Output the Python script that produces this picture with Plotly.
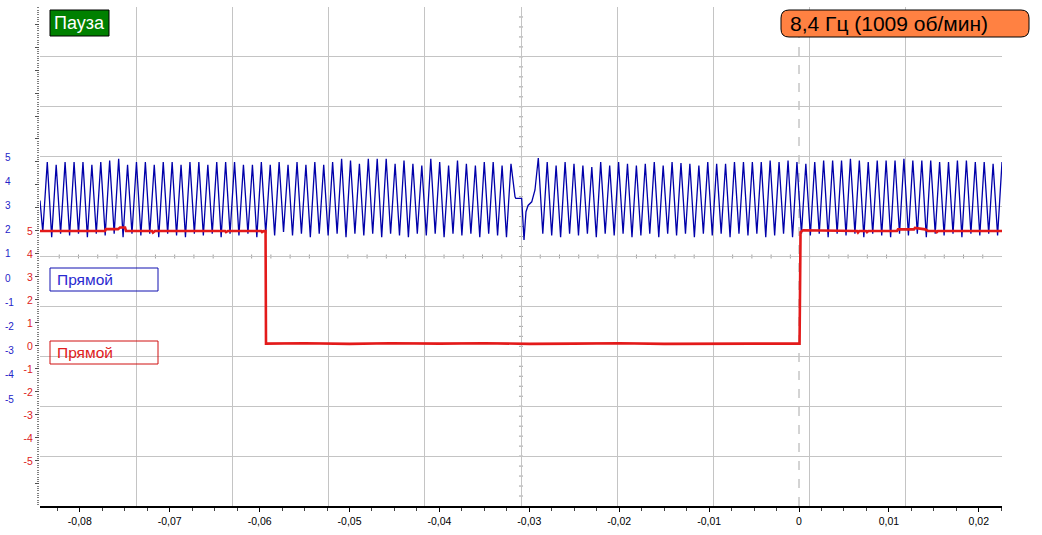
import plotly.graph_objects as go

# ---------------- data ----------------
time_range_ms = [-84.43, 22.58]
trigger_t_ms = 0.0

x_tick_vals_ms = [-80, -70, -60, -50, -40, -30, -20, -10, 0, 10, 20]
x_tick_text = ["-0,08", "-0,07", "-0,06", "-0,05", "-0,04", "-0,03",
               "-0,02", "-0,01", "0", "0,01", "0,02"]

level_tick_vals = [5, 4, 3, 2, 1, 0, -1, -2, -3, -4, -5]
level_tick_text = ["5", "4", "3", "2", "1", "0", "-1", "-2", "-3", "-4", "-5"]

blue_range = [-9.42, 11.20]
red_range = [-6.96, 14.74]

blue_peak_t_ms = [
    -83.62, -82.63, -81.64, -80.64, -79.65, -78.66, -77.67, -76.68, -75.68, -74.69,
    -73.70, -72.71, -71.72, -70.72, -69.73, -68.74, -67.75, -66.76, -65.76, -64.77,
    -63.78, -62.79, -61.80, -60.80, -59.81, -58.82, -57.83, -56.84, -55.84, -54.85,
    -53.86, -52.87, -51.88, -50.88, -49.89, -48.90, -47.91, -46.92, -45.92, -44.93,
    -43.94, -42.95, -41.96, -40.96, -39.97, -38.98, -37.99, -37.00, -36.00, -35.01,
    -34.02, -33.03, -32.04,
    -29.00, -28.01, -27.02, -26.02, -25.03, -24.04, -23.05, -22.06, -21.06, -20.07,
    -19.08, -18.09, -17.10, -16.10, -15.11, -14.12, -13.13, -12.14, -11.14, -10.15,
    -9.16, -8.17, -7.18, -6.18, -5.19, -4.20, -3.21, -2.22, -1.22, -0.23,
    0.76, 1.75, 2.74, 3.74, 4.73, 5.72, 6.71, 7.70, 8.70, 9.69,
    10.68, 11.67, 12.66, 13.66, 14.65, 15.64, 16.63, 17.62, 18.62, 19.61,
    20.60, 21.59, 22.58,
]
blue_peak_v = [
    4.79, 4.68, 4.79, 4.79, 4.79, 4.68, 4.79, 4.86, 4.93, 4.68,
    4.79, 4.79, 4.68, 4.79, 4.79, 4.68, 4.79, 4.79, 4.68, 4.79,
    4.79, 4.79, 4.68, 4.68, 4.79, 4.68, 4.79, 4.68, 4.79, 4.68,
    4.79, 4.68, 4.79, 4.93, 4.86, 4.72,
    4.93, 4.93, 4.93, 4.72, 4.86, 4.72, 4.65, 4.93, 4.79, 4.65,
    4.86, 4.72, 4.65, 4.79, 4.79, 4.65, 4.72,
    4.96, 4.79, 4.65, 4.79, 4.72, 4.65, 4.59, 4.79, 4.65, 4.79,
    4.72, 4.65, 4.72, 4.79, 4.65, 4.79, 4.75, 4.72,
    4.65, 4.79, 4.72, 4.72, 4.79, 4.79, 4.79, 4.79, 4.86, 4.79,
    4.86, 4.79, 4.72, 4.79, 4.86, 4.86, 4.86, 4.93, 4.86, 4.79,
    4.86, 4.86, 4.86, 4.93, 4.86, 4.86, 4.86, 4.79, 4.79, 4.86,
    4.86, 4.79, 4.79, 4.72, 4.79,
]
blue_trough_t_ms = [
    -84.12, -83.13, -82.14, -81.14, -80.15, -79.16, -78.17, -77.18, -76.18, -75.19,
    -74.20, -73.21, -72.22, -71.22, -70.23, -69.24, -68.25, -67.26, -66.26, -65.27,
    -64.28, -63.29, -62.30, -61.30, -60.31, -59.32, -58.33, -57.34, -56.34, -55.35,
    -54.36, -53.37, -52.38, -51.38, -50.39, -49.40, -48.41, -47.42, -46.42, -45.43,
    -44.44, -43.45, -42.46, -41.46, -40.47, -39.48, -38.49, -37.50, -36.50, -35.51,
    -34.52, -33.53, -32.54,
    -28.50, -27.51, -26.52, -25.52, -24.53, -23.54, -22.55, -21.56, -20.56, -19.57,
    -18.58, -17.59, -16.60, -15.60, -14.61, -13.62, -12.63, -11.64, -10.64, -9.65,
    -8.66, -7.67, -6.68, -5.68, -4.69, -3.70, -2.71, -1.72, -0.72, 0.27,
    1.26, 2.25, 3.24, 4.24, 5.23, 6.22, 7.21, 8.20, 9.20, 10.19,
    11.18, 12.17, 13.16, 14.16, 15.15, 16.14, 17.13, 18.12, 19.12, 20.11,
    21.10, 22.09,
]
blue_trough_v = [
    1.90, 1.69, 1.83, 1.76, 1.83, 1.69, 1.83, 1.76, 1.83, 1.69,
    1.83, 1.76, 1.83, 1.69, 1.83, 1.76, 1.69, 1.83, 1.76, 1.83,
    1.69, 1.83, 1.76, 1.83, 1.69, 1.83, 1.76, 1.90, 1.76, 1.83,
    1.69, 1.83, 1.76, 1.83, 1.69, 1.83, 1.76, 1.83, 1.69, 1.83,
    1.76, 1.69, 1.83, 1.76, 1.83, 1.69, 1.83, 1.76, 1.83, 1.69,
    1.83, 1.76, 1.69,
    1.83, 1.76, 1.69, 1.83, 1.76, 1.83, 1.69, 1.83, 1.76, 1.83,
    1.69, 1.76, 1.83, 1.69, 1.83, 1.76, 1.83, 1.69, 1.83, 1.76,
    1.83, 1.69, 1.83, 1.76, 1.83, 1.69, 1.76, 1.83, 1.69, 1.83,
    1.76, 1.83, 1.69, 1.83, 1.76, 1.83, 1.69, 1.83, 1.76, 1.69,
    1.83, 1.76, 1.83, 1.69, 1.83, 1.76, 1.83, 1.69, 1.83, 1.76,
    1.83, 1.76,
]
# start of record and the missing-tooth gap
blue_extra_t_ms = [-84.43, -31.70, -31.59, -31.50, -30.85, -30.59, -30.37, -30.14, -29.73, -29.37]
blue_extra_v = [3.20, 3.65, 3.36, 3.29, 3.29, 1.57, 2.74, 3.00, 3.15, 3.64]

red_t_ms = [
    -84.43, -77.20, -77.09, -75.75, -75.53, -74.97, -74.86, -71.97, -71.86, -71.64,
    -63.85, -63.74, -63.52, -59.84, -59.73, -59.51, -59.34, -59.29,
    -55.0, -50.0, -45.5, -40.0, -35.0, -30.0, -25.0, -20.0, -15.0, -10.0, -5.0, 0.06,
    0.08, 0.14, 0.17, 0.44, 1.50, 1.60, 6.45, 6.56, 6.70, 7.45, 7.56, 7.70,
    10.90, 11.01, 12.79, 12.90, 14.02, 14.35, 15.20, 15.32, 15.45, 22.58,
]
red_v = [
    5.00, 5.00, 5.08, 5.08, 5.15, 5.15, 5.00, 5.00, 4.93, 5.00,
    5.00, 4.95, 5.00, 5.00, 4.95, 5.00, 5.00, 0.10,
    0.12, 0.09, 0.12, 0.10, 0.12, 0.09, 0.10, 0.12, 0.09, 0.11, 0.10, 0.10,
    2.60, 2.70, 4.95, 5.03, 5.03, 5.00, 5.00, 4.93, 5.00, 5.00, 4.95, 5.00,
    5.00, 5.07, 5.07, 5.13, 5.07, 5.00, 5.00, 4.95, 5.00, 5.00,
]

channel_label = "Прямой"
pause_label = "Пауза"
freq_label = "8,4 Гц (1009 об/мин)"
n_div = 10

# ---------------- layout geometry ----------------
W, H = 1042, 535
PL, PR, PT, PB = 40, 1002, 7, 506
dom_x = [PL / W, PR / W]
dom_y = [1 - PB / H, 1 - PT / H]


def px(x):
    return x / W


def py(y):
    return 1 - y / H


BLUE = "#0000aa"
RED = "#e31a1a"
GRID = "#c4c4c4"
FONT = "Liberation Sans, Arial, sans-serif"

# merge blue vertices in time order
blue_pts = sorted(zip(blue_extra_t_ms + blue_trough_t_ms + blue_peak_t_ms,
                      blue_extra_v + blue_trough_v + blue_peak_v))
blue_t_s = [p[0] / 1000 for p in blue_pts]
blue_vals = [p[1] for p in blue_pts]

fig = go.Figure()
fig.add_trace(go.Scatter(x=blue_t_s, y=blue_vals, mode="lines",
                         line=dict(color=BLUE, width=1.3), xaxis="x", yaxis="y",
                         hoverinfo="skip"))
fig.add_trace(go.Scatter(x=[t / 1000 for t in red_t_ms], y=red_v, mode="lines",
                         line=dict(color=RED, width=2.6), xaxis="x", yaxis="y2",
                         hoverinfo="skip"))
# anchor trace for the division grid subplot
fig.add_trace(go.Scatter(x=[n_div / 2], y=[n_div / 2], mode="markers",
                         marker=dict(opacity=0), xaxis="x2", yaxis="y3",
                         hoverinfo="skip"))

red_tickvals = list(range(-6, 15))
red_ticktext = [str(v) if -5 <= v <= 5 else "" for v in red_tickvals]

fig.update_layout(
    width=W, height=H, template="none",
    margin=dict(l=0, r=0, t=0, b=0),
    paper_bgcolor="white", plot_bgcolor="white",
    showlegend=False, font=dict(family=FONT), hovermode=False,
    xaxis=dict(domain=dom_x, range=[t / 1000 for t in time_range_ms], anchor="y",
               showgrid=False, zeroline=False, showline=True, linecolor="black",
               linewidth=2, ticks="outside", ticklen=4, tickcolor="black",
               tickmode="array", tickvals=[v / 1000 for v in x_tick_vals_ms],
               ticktext=x_tick_text, tickfont=dict(size=10.5, color="black", family=FONT),
               minor=dict(dtick=0.0025, tick0=0, ticks="outside", ticklen=2.5,
                          tickcolor="#404040", showgrid=False),
               automargin=False),
    yaxis=dict(domain=dom_y, range=blue_range, anchor="free", position=0, side="right",
               showgrid=False, zeroline=False, showline=False, ticks="",
               tickmode="array", tickvals=level_tick_vals, ticktext=level_tick_text,
               tickfont=dict(size=10, color="#2424c8", family=FONT),
               ticklabelstandoff=4, automargin=False),
    yaxis2=dict(overlaying="y", anchor="x", side="left", range=red_range,
                showgrid=False, zeroline=False, showline=False,
                ticks="outside", ticklen=4, tickcolor="#505050",
                tickmode="array", tickvals=red_tickvals, ticktext=red_ticktext,
                tickfont=dict(size=10.5, color="#dd2020", family=FONT),
                minor=dict(dtick=0.1, tick0=0, ticks="outside", ticklen=2,
                           tickcolor="#808080", showgrid=False),
                automargin=False),
    xaxis2=dict(overlaying="x", anchor="y3", range=[0, n_div], tickmode="array",
                tickvals=list(range(1, n_div)), showgrid=True, gridcolor=GRID,
                gridwidth=1, showticklabels=False, ticks="", zeroline=False,
                showline=False, automargin=False),
    yaxis3=dict(overlaying="y", anchor="x2", range=[0, n_div], tickmode="array",
                tickvals=list(range(1, n_div)), showgrid=True, gridcolor=GRID,
                gridwidth=1, showticklabels=False, ticks="", zeroline=False,
                showline=False, automargin=False),
)

shapes = []
# trigger cursor (dashed)
shapes.append(dict(type="line", xref="x", yref="y3", x0=trigger_t_ms / 1000,
                   x1=trigger_t_ms / 1000, y0=0, y1=n_div, layer="below",
                   line=dict(color="#a8a8a8", width=1, dash="dash")))
# centre-line tick marks
c = n_div / 2
for k in range(1, n_div * 5):
    v = k / 5
    shapes.append(dict(type="line", xref="x2", yref="y3", x0=c - 0.021, x1=c + 0.021,
                       y0=v, y1=v, layer="below", line=dict(color="#a0a0a0", width=1)))
    shapes.append(dict(type="line", xref="x2", yref="y3", x0=v, x1=v,
                       y0=c - 0.04, y1=c + 0.04, layer="below",
                       line=dict(color="#a0a0a0", width=1)))

# pause box
shapes.append(dict(type="rect", xref="paper", yref="paper", x0=px(50), x1=px(109),
                   y0=py(36), y1=py(10), fillcolor="#008000",
                   line=dict(color="black", width=1), layer="above"))
# channel label boxes
shapes.append(dict(type="rect", xref="paper", yref="paper", x0=px(50), x1=px(158),
                   y0=py(291), y1=py(268), fillcolor="rgba(0,0,0,0)",
                   line=dict(color="#1010b0", width=1), layer="above"))
shapes.append(dict(type="rect", xref="paper", yref="paper", x0=px(50), x1=px(158),
                   y0=py(364), y1=py(341), fillcolor="rgba(0,0,0,0)",
                   line=dict(color="#d01010", width=1), layer="above"))
# rounded frequency box
x0, x1, y0, y1, r = 781, 1029, 10, 37, 8
path = (f"M {px(x0 + r)},{py(y0)} L {px(x1 - r)},{py(y0)} "
        f"Q {px(x1)},{py(y0)} {px(x1)},{py(y0 + r)} L {px(x1)},{py(y1 - r)} "
        f"Q {px(x1)},{py(y1)} {px(x1 - r)},{py(y1)} L {px(x0 + r)},{py(y1)} "
        f"Q {px(x0)},{py(y1)} {px(x0)},{py(y1 - r)} L {px(x0)},{py(y0 + r)} "
        f"Q {px(x0)},{py(y0)} {px(x0 + r)},{py(y0)} Z")
shapes.append(dict(type="path", xref="paper", yref="paper", path=path,
                   fillcolor="#ff8142", line=dict(color="black", width=1), layer="above"))
fig.update_layout(shapes=shapes)

annotations = [
    dict(text=pause_label, xref="paper", yref="paper", x=px(79.5), y=py(23),
         xanchor="center", yanchor="middle", showarrow=False,
         font=dict(family=FONT, size=18, color="white")),
    dict(text=freq_label, xref="paper", yref="paper", x=px(788), y=py(23.5),
         xanchor="left", yanchor="middle", showarrow=False,
         font=dict(family=FONT, size=21, color="black")),
    dict(text=channel_label, xref="paper", yref="paper", x=px(55), y=py(279.5),
         xanchor="left", yanchor="middle", showarrow=False,
         font=dict(family=FONT, size=15.5, color="#2a2ad0")),
    dict(text=channel_label, xref="paper", yref="paper", x=px(55), y=py(352.5),
         xanchor="left", yanchor="middle", showarrow=False,
         font=dict(family=FONT, size=15.5, color="#e02020")),
]
fig.update_layout(annotations=annotations)

fig.write_html("out.html", config={"displayModeBar": False, "staticPlot": True},
               post_script="document.body.style.margin='0';document.body.style.padding='0';")
